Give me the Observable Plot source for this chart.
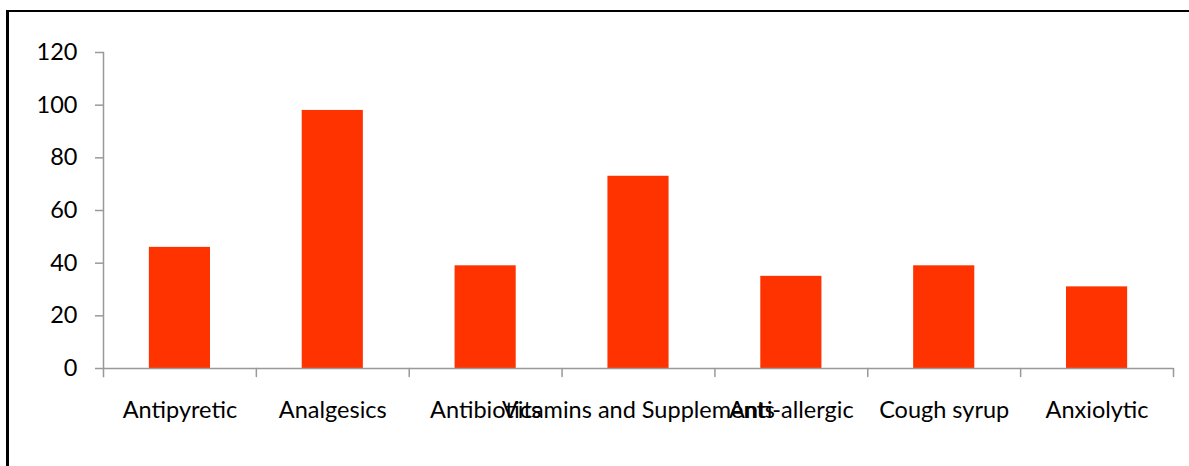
<!DOCTYPE html>
<html>
<head>
<meta charset="utf-8">
<script src="https://cdn.jsdelivr.net/npm/d3@7"></script>
<script src="https://cdn.jsdelivr.net/npm/@observablehq/plot@0.6"></script>
<style>
  html, body { margin: 0; padding: 0; background: #fff; }
  #wrap { position: relative; width: 1189px; height: 466px; overflow: hidden; }
  #border { position: absolute; left: 6px; top: 10px; width: 1300px; height: 600px;
            border-left: 3px solid #000; border-top: 2px solid #000; box-sizing: border-box; }
  #chart { position: absolute; left: 0; top: 0; }
</style>
</head>
<body>
<div id="wrap">
  <div id="border"></div>
  <div id="chart"></div>
</div>
<script>
const categories = ["Antipyretic", "Analgesics", "Antibiotics", "Vitamins and Supplements", "Anti-allergic", "Cough syrup", "Anxiolytic"];
const values = [46, 98, 39, 73, 35, 39, 31];
const yTicks = [0, 20, 40, 60, 80, 100, 120];

const data = categories.map((c, i) => ({category: c, value: values[i]}));

const W = 1189, H = 466;
const mLeft = 103, mRight = 16, mTop = 52, mBottom = 98;
const step = (W - mLeft - mRight) / categories.length;
const axisColor = "#999999";
const font = "Lato, 'Noto Sans', sans-serif";
const fs = 23.5;

const tickShape = {draw(ctx, l) { ctx.moveTo(0, 0); ctx.lineTo(0, -l); }};

const chart = Plot.plot({
  width: W,
  height: H,
  marginLeft: mLeft,
  marginRight: mRight,
  marginTop: mTop,
  marginBottom: mBottom,
  style: {fontFamily: font, fontSize: fs + "px", background: "transparent", color: "#000"},
  x: {domain: categories, paddingInner: 0.6, paddingOuter: 0.3, round: false, label: null},
  y: {domain: [0, 120], label: null},
  marks: [
    Plot.barY(data, {x: "category", y: "value", fill: "#FF3300"}),
    Plot.frame({anchor: "left", stroke: axisColor, strokeWidth: 1.5, insetBottom: -8}),
    Plot.ruleY([0], {stroke: axisColor, strokeWidth: 1.5}),
    Plot.vector(categories.slice(1), {x: d => d, y: () => 0, length: 8, rotate: 180, anchor: "start",
      dx: -step / 2, stroke: axisColor, strokeWidth: 1.5, shape: tickShape}),
    Plot.vector(categories.slice(-1), {x: d => d, y: () => 0, length: 8, rotate: 180, anchor: "start",
      dx: step / 2, stroke: axisColor, strokeWidth: 1.5, shape: tickShape}),
    Plot.axisY({ticks: yTicks, tickSize: 8, tickPadding: 18, stroke: axisColor, strokeWidth: 1.5,
      fill: "#000", fontSize: fs, tickFormat: d => String(d), label: null}),
    Plot.axisX({tickSize: 0, tickPadding: 33, fill: "#000", fontSize: fs, label: null})
  ]
});
document.getElementById("chart").appendChild(chart);
</script>
</body>
</html>
